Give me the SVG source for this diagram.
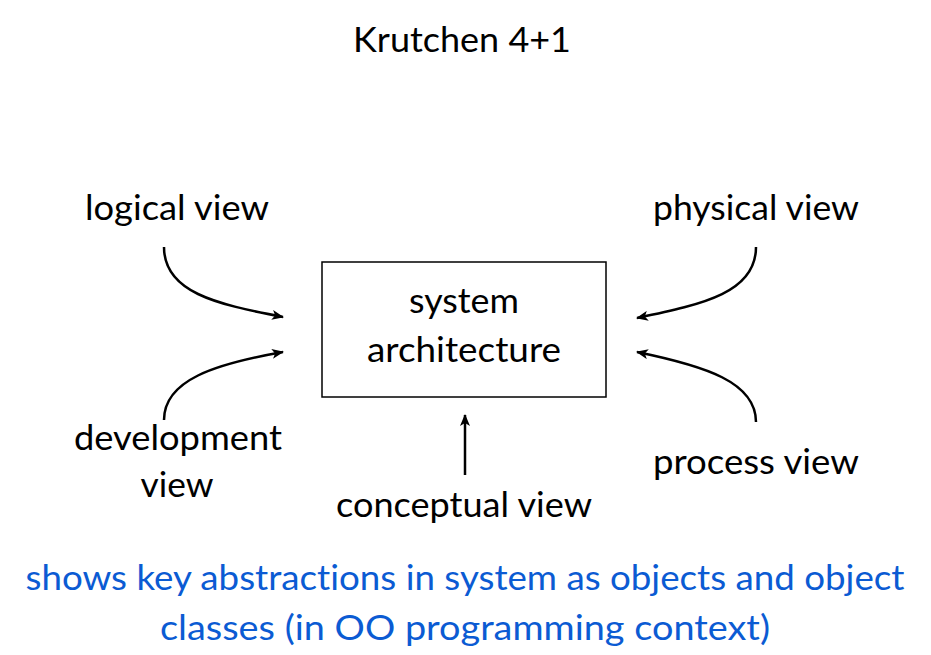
<svg xmlns="http://www.w3.org/2000/svg" width="931" height="655" viewBox="0 0 931 655">
<style>
text{font-family:Lato,"Open Sans","Liberation Sans",sans-serif;font-size:35px;fill:#000;text-anchor:middle;font-variant-ligatures:none}
.blue{fill:#0b5bd3}
.conn{fill:none;stroke:#000;stroke-width:2.5;marker-end:url(#ah)}
</style>
<defs>
<marker id="ah" viewBox="0 0 12 10" refX="11" refY="5" markerWidth="12" markerHeight="10" markerUnits="userSpaceOnUse" orient="auto">
<path d="M0,0 L12,5 L0,10 L3,5 Z" fill="#000"/>
</marker>
</defs>
<rect width="931" height="655" fill="#fff"/>
<g id="title"><text x="462" y="52" textLength="218" lengthAdjust="spacingAndGlyphs">Krutchen 4+1</text></g>
<g id="system"><rect x="322" y="262" width="284" height="135" fill="none" stroke="#000" stroke-width="1.5"/>
<text x="464" y="313" textLength="110" lengthAdjust="spacingAndGlyphs">system</text><text x="464" y="362" textLength="194" lengthAdjust="spacingAndGlyphs">architecture</text></g>
<g id="logical"><text x="177" y="220" textLength="184" lengthAdjust="spacingAndGlyphs">logical view</text></g>
<g id="physical"><text x="756" y="220" textLength="206" lengthAdjust="spacingAndGlyphs">physical view</text></g>
<g id="development"><text x="178" y="450" textLength="208" lengthAdjust="spacingAndGlyphs">development</text><text x="177" y="497" textLength="73" lengthAdjust="spacingAndGlyphs">view</text></g>
<g id="process"><text x="756" y="474" textLength="206" lengthAdjust="spacingAndGlyphs">process view</text></g>
<g id="conceptual"><text x="464" y="517" textLength="256" lengthAdjust="spacingAndGlyphs">conceptual view</text></g>
<g id="connectors">
<path class="conn" d="M164,247 C164,292 215,304 283,317"/>
<path class="conn" d="M164,420 C164,380 215,364 283,352"/>
<path class="conn" d="M756,247 C756,292 705,304 637,318"/>
<path class="conn" d="M756,422 C756,382 705,366 637,352"/>
<path class="conn" d="M465,475 L465,415"/>
</g>
<g id="note"><text class="blue" x="465" y="590" textLength="879" lengthAdjust="spacingAndGlyphs">shows key abstractions in system as objects and object</text>
<text class="blue" x="465" y="640" textLength="610" lengthAdjust="spacingAndGlyphs">classes (in OO programming context)</text></g>
</svg>
